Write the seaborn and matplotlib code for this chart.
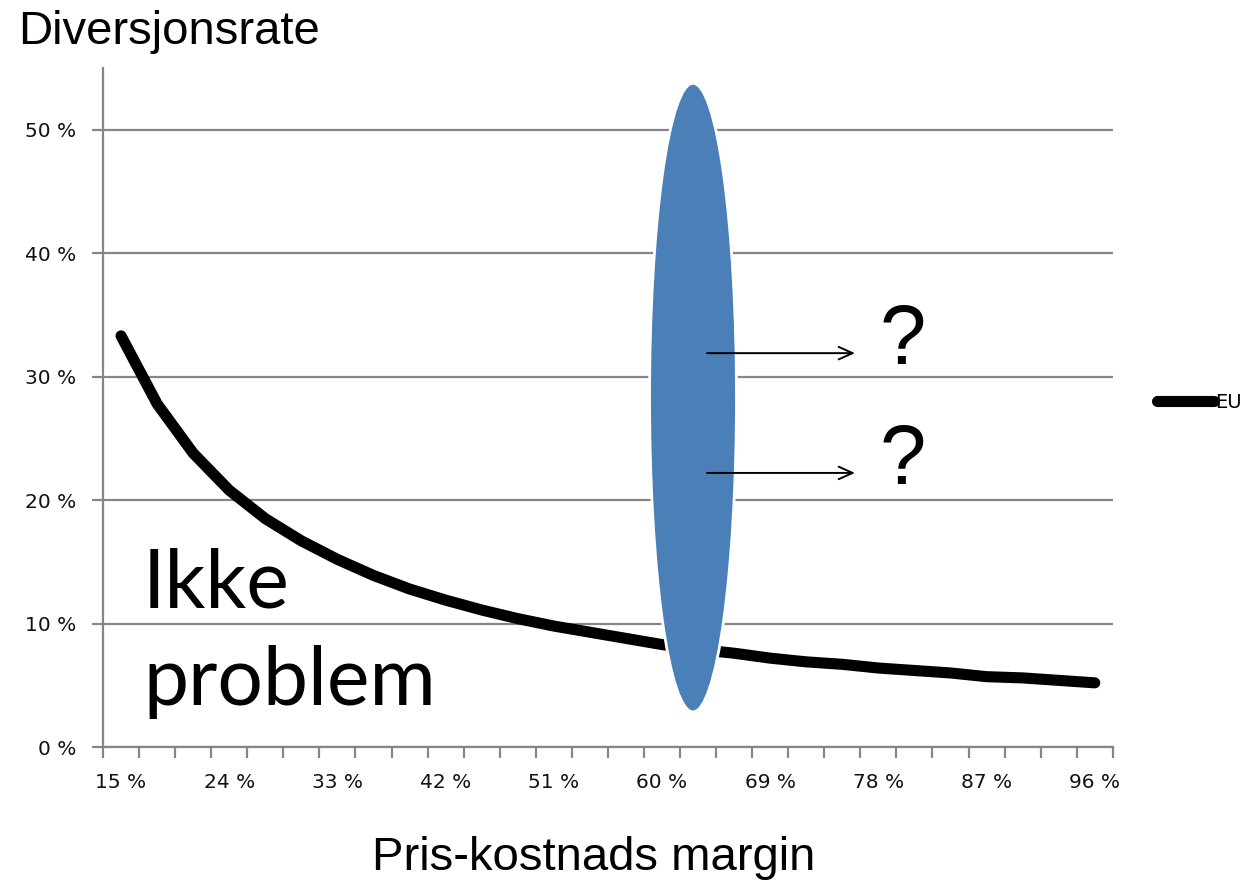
import numpy as np
import pandas as pd
import matplotlib
matplotlib.use("Agg")
import matplotlib.pyplot as plt
from matplotlib.patches import Ellipse
import seaborn as sns

# pris-kostnads margin (kategorier) og diversjonsrate lest av bildet
margins = [15, 18, 21, 24, 27, 30, 33, 36, 39, 42, 45, 48, 51, 54,
           57, 60, 63, 66, 69, 72, 75, 78, 81, 84, 87, 90, 93, 96]
eu_rate = [0.333, 0.278, 0.238, 0.208, 0.185, 0.167, 0.152, 0.139, 0.128, 0.119,
           0.111, 0.104, 0.098, 0.093, 0.088, 0.083, 0.079, 0.076, 0.072, 0.069,
           0.067, 0.064, 0.062, 0.060, 0.057, 0.056, 0.054, 0.052]
y_ticks = [0, 0.1, 0.2, 0.3, 0.4, 0.5]
y_labels = ["0 %", "10 %", "20 %", "30 %", "40 %", "50 %"]

df = pd.DataFrame({"margin": [f"{m} %" for m in margins], "rate": eu_rate})

sns.set_style("white")
plt.rcParams["font.family"] = ["DejaVu Sans"]
plt.rcParams["text.color"] = "black"

fig = plt.figure(figsize=(12.56, 8.82), dpi=100)
ax = fig.add_axes([0.082, 0.153, 0.804, 0.770])

gray = "#868686"
sns.lineplot(data=df, x="margin", y="rate", ax=ax, color="black", lw=8,
             solid_capstyle="round", solid_joinstyle="round", label="EU", zorder=3)

ax.set_xlim(-0.5, len(margins) - 0.5)
ax.set_ylim(0, 0.55)
ax.set_yticks(y_ticks)
ax.set_yticklabels(y_labels, fontsize=14.5, color="#111111")
ax.grid(axis="y", color=gray, lw=1.6)
ax.grid(axis="x", visible=False)
ax.set_axisbelow(True)

# tick marks between categories, labels every third category
n = len(margins)
ax.set_xticks(np.arange(-0.5, n, 1.0))
ax.set_xticklabels([])
lab_pos = np.arange(0, n, 3)
ax.set_xticks(lab_pos, minor=True)
ax.set_xticklabels([df["margin"][i] for i in lab_pos], minor=True, fontsize=14.5, color="#111111")
ax.tick_params(axis="x", which="major", length=8, width=1.6, color=gray, direction="out", bottom=True)
ax.tick_params(axis="x", which="minor", length=0, pad=19)
ax.tick_params(axis="y", length=8, width=1.6, color=gray, direction="out", left=True, pad=11)

for s in ["top", "right"]:
    ax.spines[s].set_visible(False)
for s in ["left", "bottom"]:
    ax.spines[s].set_color(gray)
    ax.spines[s].set_linewidth(1.6)

ax.set_xlabel("")
ax.set_ylabel("")

ell = Ellipse((15.86, 0.283), width=2.41, height=0.509, facecolor="#4A7FB7",
              edgecolor="white", lw=2, zorder=4)
ax.add_patch(ell)

for yv in [0.319, 0.222]:
    ax.annotate("", xy=(20.35, yv), xytext=(16.25, yv),
                arrowprops=dict(arrowstyle="->,head_length=1.0,head_width=0.45", lw=1.4,
                                color="black", shrinkA=0, shrinkB=0), zorder=5)
for yv in [0.328, 0.231]:
    ax.text(21.68, yv, "?", fontsize=60, family="Liberation Sans", ha="center", va="center",
            color="black")

ax.text(0.61, 0.113, "Ikke", fontsize=58, family="Lato", va="baseline", color="black")
ax.text(0.61, 0.034, "problem", fontsize=58, family="Lato", va="baseline", color="black")

leg = ax.legend(loc="center left", bbox_to_anchor=(1.044, 0.507), frameon=False,
                fontsize=14, handlelength=2.9, handletextpad=0.1, borderpad=0, borderaxespad=0)

fig.text(18 / 1256, 1 - 10 / 882, "Diversjonsrate", fontsize=34, family="Liberation Sans",
         ha="left", va="top", color="black")
fig.text(594 / 1256, 1 - 870 / 882, "Pris-kostnads margin", fontsize=34,
         family="Liberation Sans", ha="center", va="baseline", color="black")

fig.savefig("out.png", dpi=100)
